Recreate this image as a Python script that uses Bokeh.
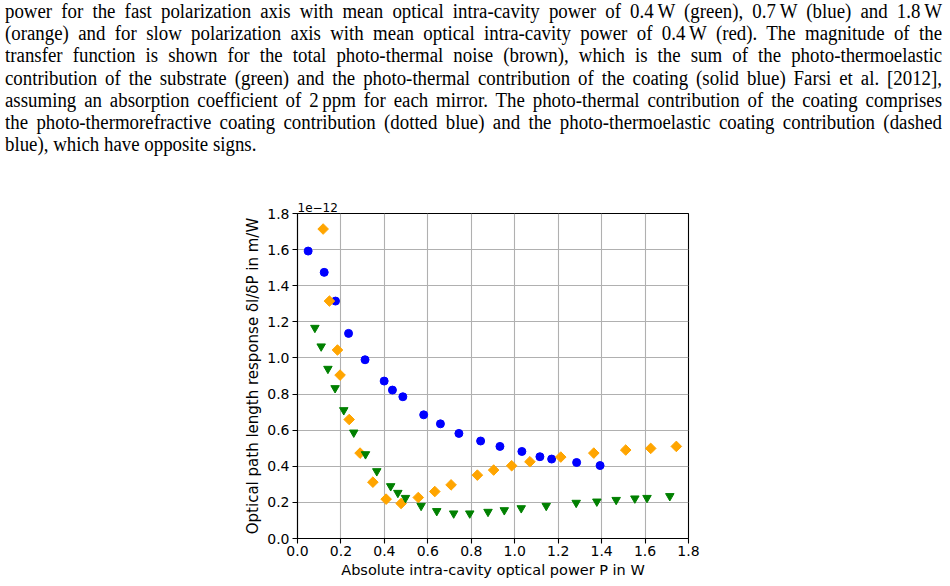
from bokeh.plotting import figure
from bokeh.layouts import column
from bokeh.models import Div, Range1d, FixedTicker, PrintfTickFormatter, Title, ColumnDataSource
from bokeh.embed import file_html
from bokeh.resources import INLINE
import math

# Measured optical path length response (in units of 1e-12 m/W) vs intra-cavity power (W)
blue_power = [0.049, 0.123, 0.175, 0.235, 0.311, 0.399, 0.437, 0.485, 0.581, 0.658, 0.743,
              0.843, 0.932, 1.033, 1.116, 1.170, 1.285, 1.393]
blue_resp = [1.592, 1.474, 1.315, 1.136, 0.990, 0.872, 0.822, 0.785, 0.685, 0.635, 0.582,
             0.540, 0.510, 0.482, 0.453, 0.440, 0.421, 0.404]

orange_power = [0.118, 0.147, 0.184, 0.196, 0.238, 0.288, 0.347, 0.408, 0.477, 0.556, 0.632,
                0.707, 0.828, 0.903, 0.986, 1.070, 1.212, 1.364, 1.511, 1.626, 1.744]
orange_resp = [1.714, 1.315, 1.044, 0.905, 0.659, 0.473, 0.312, 0.218, 0.194, 0.227, 0.260,
               0.297, 0.351, 0.379, 0.403, 0.425, 0.451, 0.473, 0.490, 0.499, 0.510]

green_power = [0.080, 0.109, 0.140, 0.173, 0.213, 0.259, 0.313, 0.365, 0.429, 0.462, 0.497,
               0.569, 0.641, 0.719, 0.793, 0.877, 0.952, 1.030, 1.145, 1.283, 1.378, 1.467,
               1.553, 1.609, 1.714]
green_resp = [1.167, 1.064, 0.940, 0.833, 0.711, 0.587, 0.467, 0.373, 0.290, 0.253, 0.225,
              0.181, 0.152, 0.139, 0.139, 0.148, 0.157, 0.168, 0.181, 0.198, 0.205, 0.214,
              0.222, 0.225, 0.235]

x_ticks = [0.0, 0.2, 0.4, 0.6, 0.8, 1.0, 1.2, 1.4, 1.6, 1.8]
y_ticks = [0.0, 0.2, 0.4, 0.6, 0.8, 1.0, 1.2, 1.4, 1.6, 1.8]

caption_lines = [
    "power for the fast polarization axis with mean optical intra-cavity power of 0.4\u2009W (green), 0.7\u2009W (blue) and 1.8\u2009W",
    "(orange) and for slow polarization axis with mean optical intra-cavity power of 0.4\u2009W (red). The magnitude of the",
    "transfer function is shown for the total photo-thermal noise (brown), which is the sum of the photo-thermoelastic",
    "contribution of the substrate (green) and the photo-thermal contribution of the coating (solid blue) Farsi et al. [2012],",
    "assuming an absorption coefficient of 2\u2009ppm for each mirror. The photo-thermal contribution of the coating comprises",
    "the photo-thermorefractive coating contribution (dotted blue) and the photo-thermoelastic coating contribution (dashed",
    "blue), which have opposite signs.",
]

# ---- caption text block (narrow serif, justified lines) -------------------
squeeze = 0.92
inner_width = 937 / squeeze
line_html = []
for i, line in enumerate(caption_lines):
    last = i == len(caption_lines) - 1
    align = "left" if last else "justify"
    line_html.append(
        f'<div style="text-align:{align};text-align-last:{align};white-space:nowrap;">{line}</div>'
    )
caption_html = (
    '<div style="font-family:\'Liberation Serif\',serif;font-size:20.5px;line-height:22.2px;'
    f'color:#000;width:{inner_width:.1f}px;margin-left:5px;'
    f'transform:scaleX({squeeze});transform-origin:0 0;">'
    + "".join(line_html) + "</div>"
)
caption = Div(text=caption_html, width=950, height=170, margin=(0, 0, 0, 0))

# ---- scatter figure -------------------------------------------------------
p = figure(width=950, height=416, output_backend="svg", toolbar_location=None,
           x_range=Range1d(0, 1.8), y_range=Range1d(0, 1.8),
           min_border_left=297, min_border_right=262,
           min_border_top=43, min_border_bottom=48,
           margin=(0, 0, 0, 0))
p.background_fill_color = "white"
p.border_fill_color = "white"
p.outline_line_color = "black"
p.outline_line_width = 1.1

for ax in (p.xaxis[0], p.yaxis[0]):
    ax.axis_line_color = "black"
    ax.axis_line_width = 1.1
    ax.major_tick_line_color = "black"
    ax.major_tick_line_width = 1.1
    ax.major_tick_out = 5
    ax.major_tick_in = 0
    ax.minor_tick_line_color = None
    ax.major_label_text_font = "DejaVu Sans"
    ax.major_label_text_font_size = "14px"
    ax.major_label_text_color = "black"
    ax.axis_label_text_font = "DejaVu Sans"
    ax.axis_label_text_font_style = "normal"
    ax.axis_label_text_color = "black"
    ax.formatter = PrintfTickFormatter(format="%.1f")

p.xaxis[0].ticker = FixedTicker(ticks=x_ticks)
p.yaxis[0].ticker = FixedTicker(ticks=y_ticks)
p.xaxis[0].axis_label = "Absolute intra-cavity optical power P in W"
p.yaxis[0].axis_label = "Optical path length response \u03b4l/\u03b4P in m/W"
p.xaxis[0].axis_label_text_font_size = "14.5px"
p.yaxis[0].axis_label_text_font_size = "15px"
p.xaxis[0].major_label_standoff = 2
p.yaxis[0].major_label_standoff = 3
p.xaxis[0].axis_label_standoff = 3
p.yaxis[0].axis_label_standoff = 2

p.xgrid[0].grid_line_color = "#b0b0b0"
p.ygrid[0].grid_line_color = "#b0b0b0"
p.xgrid[0].grid_line_width = 1.1
p.ygrid[0].grid_line_width = 1.1

src_blue = ColumnDataSource(dict(x=blue_power, y=blue_resp))
src_orange = ColumnDataSource(dict(x=orange_power, y=orange_resp))
src_green = ColumnDataSource(dict(x=green_power, y=green_resp))

p.scatter("x", "y", source=src_blue, marker="circle", size=8,
          fill_color="blue", line_color="blue")
p.scatter("x", "y", source=src_orange, marker="square", size=7.5, angle=math.pi / 4,
          fill_color="orange", line_color="orange")
p.scatter("x", "y", source=src_green, marker="inverted_triangle", size=8.5,
          fill_color="green", line_color="green")

# scale factor shown above the y axis
offset = Title(text="1e\u221212", align="left", text_font="DejaVu Sans",
               text_font_size="12px", text_font_style="normal", text_color="black",
               standoff=3, offset=0)
p.add_layout(offset, "above")

layout = column(caption, p, spacing=0, margin=(0, 0, 0, 0))

with open("out.html", "w") as f:
    f.write(file_html(layout, INLINE))
